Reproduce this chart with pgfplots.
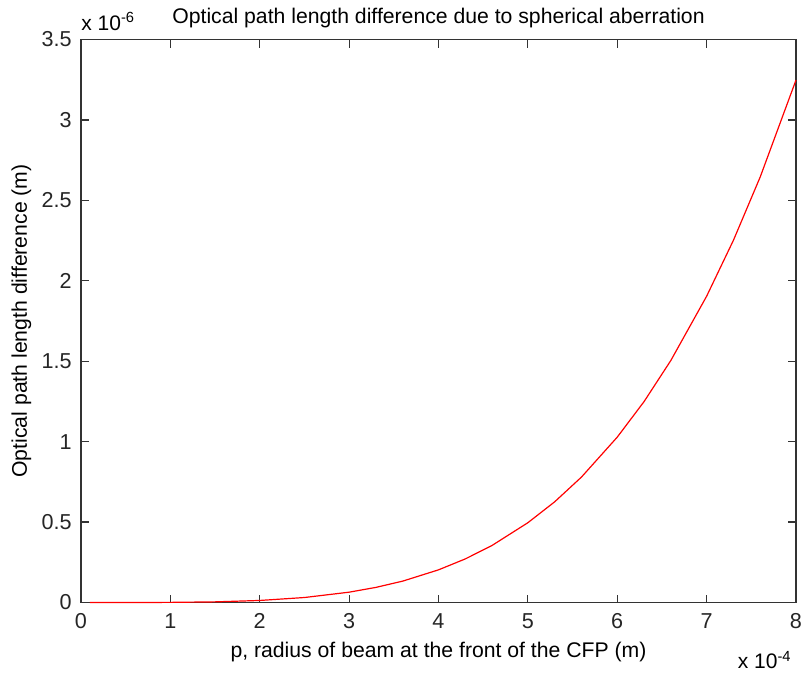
\documentclass[border=0pt]{standalone}
\usepackage{fontspec}
\setmainfont{Liberation Sans}
\usepackage{pgfplots}
\pgfplotsset{compat=1.18}
\begin{document}
\fontsize{10.5}{12.6}\selectfont
\begin{tikzpicture}
\path[use as bounding box] (-40.5pt,-36.25pt) rectangle (360.5pt,301.25pt);
\begin{axis}[
  at={(0,0)}, anchor=south west,
  scale only axis,
  width=357.5pt, height=281.5pt,
  xmin=0, xmax=8, ymin=0, ymax=3.5,
  xtick={0,1,...,8},
  ytick={0,0.5,1,1.5,2,2.5,3,3.5},
  yticklabels={0,0.5,1,1.5,2,2.5,3,3.5},
  scaled ticks=false,
  tick align=inside,
  major tick length=4pt,
  axis line style={black!80, line width=0.6pt},
  every tick/.style={black!80, line width=0.6pt},
  /pgf/number format/assume math mode=true,
  tick label style={font=\fontsize{10.8}{12.6}\selectfont, text=black!85},
  xticklabel style={yshift=-2pt},
  yticklabel style={xshift=-1pt},
  title={Optical path length difference due to spherical aberration},
  title style={font=\fontsize{10.6}{12.6}\selectfont, yshift=-4pt},
  xlabel={p, radius of beam at the front of the CFP (m)},
  ylabel={Optical path length difference (m)},
  label style={font=\fontsize{10.6}{12.6}\selectfont},
  xlabel style={yshift=0.5pt},
  ylabel style={yshift=-2pt},
  clip=false,
]
\addplot[red, line width=0.6pt] coordinates {
(0.1,0) (0.5,0.00005) (1,0.0008) (1.5,0.004) (2,0.0127) (2.5,0.031)
(3,0.0642) (3.3,0.094) (3.6,0.133) (4,0.203) (4.3,0.271) (4.6,0.355)
(5,0.496) (5.3,0.626) (5.6,0.780) (6,1.028) (6.3,1.249) (6.6,1.505)
(7,1.904) (7.3,2.252) (7.6,2.646) (8,3.248)
};
\node[anchor=south west, inner sep=0pt] at (rel axis cs:0,1) [yshift=4pt] {x 10\textsuperscript{-6}};
\node[anchor=north east, inner sep=0pt] at (rel axis cs:1,0) [yshift=-24pt, xshift=-2pt] {x 10\textsuperscript{-4}};
\end{axis}
\end{tikzpicture}
\end{document}
